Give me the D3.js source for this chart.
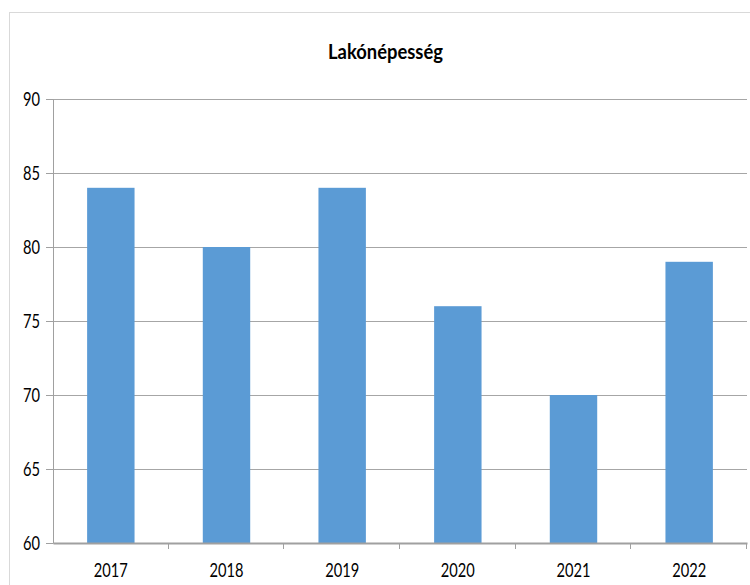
<!DOCTYPE html>
<html>
<head>
<meta charset="utf-8">
<script src="https://cdn.jsdelivr.net/npm/d3@7"></script>
<style>
  body { margin: 0; background: #fff; }
  text { font-family: Lato, "Liberation Sans", sans-serif; fill: #000; }
</style>
</head>
<body>
<div class="chart"></div>
<script>
// data
var years = ["2017", "2018", "2019", "2020", "2021", "2022"];
var population = [84, 80, 84, 76, 70, 79];
var yTicks = [60, 65, 70, 75, 80, 85, 90];

var svgWidth = 750;
var svgHeight = 585;

var margin = { top: 99, right: 3, bottom: 42, left: 53 };
var width = svgWidth - margin.left - margin.right;
var height = svgHeight - margin.top - margin.bottom;

var svg = d3.select(".chart")
  .append("svg")
  .attr("width", svgWidth)
  .attr("height", svgHeight);

// outer chart border
svg.append("rect")
  .attr("x", 9.5)
  .attr("y", 12.5)
  .attr("width", 760)
  .attr("height", 600)
  .attr("fill", "none")
  .attr("stroke", "#d9d9d9");

svg.append("text")
  .attr("x", 385.5)
  .attr("y", 59)
  .attr("text-anchor", "middle")
  .attr("textLength", 115)
  .attr("lengthAdjust", "spacingAndGlyphs")
  .style("font-size", "20px")
  .style("font-weight", "bold")
  .text("Lakónépesség");

var chartGroup = svg.append("g")
  .attr("transform", `translate(${margin.left}, ${margin.top})`);

var x = d3.scaleBand().domain(years).range([0, width]).paddingInner(0.59).paddingOuter(0.295);
var xTicks = d3.scaleBand().domain(years).range([0, width]);
var y = d3.scaleLinear().domain([60, 90]).range([height, 0]);

// gridlines
chartGroup.append("g")
  .selectAll("line")
  .data(yTicks.slice(1))
  .join("line")
  .attr("x1", 0)
  .attr("x2", width)
  .attr("y1", d => Math.round(y(d)) + 0.5)
  .attr("y2", d => Math.round(y(d)) + 0.5)
  .attr("stroke", "#a6a6a6")
  .attr("stroke-width", 1);

// bars
chartGroup.append("g")
  .selectAll("rect")
  .data(population)
  .join("rect")
  .attr("x", (d, i) => x(years[i]))
  .attr("y", d => y(d))
  .attr("width", x.bandwidth())
  .attr("height", d => height - y(d))
  .attr("fill", "#5b9bd5");

// y axis
var yAxis = chartGroup.append("g")
  .call(d3.axisLeft(y).tickValues(yTicks).tickSize(7).tickPadding(6));
yAxis.select(".domain").attr("stroke", "#a0a0a0");
yAxis.selectAll(".tick line").attr("stroke", "#a0a0a0");
yAxis.selectAll("text")
  .style("font-size", "19px")
  .attr("dy", "0.36em")
  .attr("textLength", 17)
  .attr("lengthAdjust", "spacingAndGlyphs");

// x axis, ticks at category boundaries
var xAxis = chartGroup.append("g")
  .attr("transform", `translate(0, ${height})`)
  .call(d3.axisBottom(xTicks).tickSize(0).tickPadding(0));
xAxis.select(".domain").attr("stroke", "#a0a0a0").attr("stroke-width", 2);
xAxis.selectAll("text")
  .style("font-size", "20px")
  .attr("dy", null)
  .attr("y", 34)
  .attr("textLength", 34)
  .attr("lengthAdjust", "spacingAndGlyphs");
xAxis.append("g")
  .selectAll("line")
  .data(years)
  .join("line")
  .attr("x1", d => Math.round(xTicks(d) + xTicks.bandwidth()) - 0.5)
  .attr("x2", d => Math.round(xTicks(d) + xTicks.bandwidth()) - 0.5)
  .attr("y1", 0)
  .attr("y2", 6)
  .attr("stroke", "#a0a0a0");
</script>
</body>
</html>
